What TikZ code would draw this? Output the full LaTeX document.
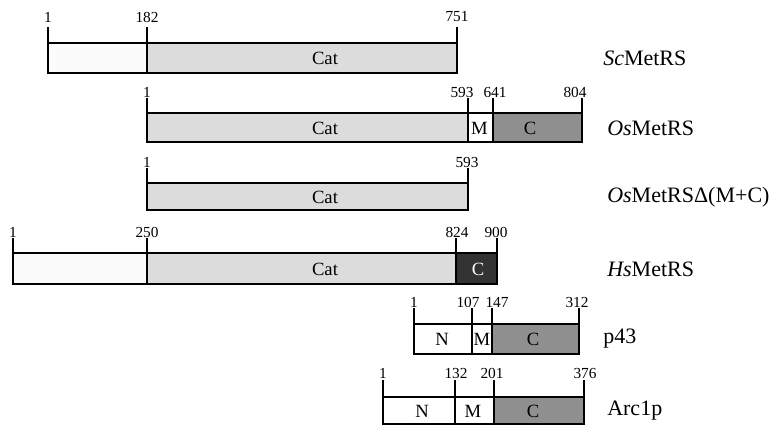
\documentclass[tikz,border=0pt]{standalone}
\usepackage{fontspec}
\setmainfont{Liberation Serif}
\definecolor{lightfill}{HTML}{FBFBFB}
\definecolor{catfill}{HTML}{DCDCDC}
\definecolor{cfill}{HTML}{8F8F8F}
\definecolor{hsfill}{HTML}{333333}
\begin{document}
\begin{tikzpicture}[x=0.75pt,y=-0.75pt,
  seg/.style={draw=black, line width=1.1pt},
  tick/.style={draw=black, line width=1.4pt},
  num/.style={font=\fontsize{11.5}{12}\selectfont, inner sep=0pt},
  dom/.style={font=\fontsize{14}{15}\selectfont, inner sep=0pt},
  domw/.style={dom, text=white},
  pname/.style={anchor=west, font=\fontsize{16.5}{18}\selectfont, inner sep=0pt}]
\useasboundingbox (0,0) rectangle (775,425);
% Row 1: ScMetRS
\draw[seg, fill=lightfill] (48,43) rectangle (147,73);
\draw[seg, fill=catfill] (147,43) rectangle (457,73);
\draw[tick] (48,27) -- (48,43) -- (457,43) -- (457,27);
\draw[tick] (147,27) -- (147,43);
\node[num] (a1) at (48,17) {1};
\node[num] (a2) at (147,17) {182};
\node[num] (a3) at (457,17) {751};
\node[dom] (ad) at (325,58) {Cat};
\node[pname] (an) at (603,58) {\textit{Sc}MetRS};
% Row 2: OsMetRS
\draw[seg, fill=catfill] (147,113) rectangle (468,142);
\draw[seg, fill=white] (468,113) rectangle (493,142);
\draw[seg, fill=cfill] (493,113) rectangle (582,142);
\draw[tick] (147,98) -- (147,113) -- (582,113) -- (582,98);
\draw[tick] (468,98) -- (468,113);
\draw[tick] (493,98) -- (493,113);
\node[num] (b1) at (147,92) {1};
\node[num] (b2) at (462,92) {593};
\node[num] (b3) at (495,92) {641};
\node[num] (b4) at (575,92) {804};
\node[dom] (bd1) at (325,128) {Cat};
\node[dom] (bd2) at (479.5,128) {M};
\node[dom] (bd3) at (530,128) {C};
\node[pname] (bn) at (607,128) {\textit{Os}MetRS};
% Row 3: OsMetRS delta
\draw[seg, fill=catfill] (147,183) rectangle (468,210);
\draw[tick] (147,168) -- (147,183) -- (468,183) -- (468,168);
\node[num] (c1) at (147,162) {1};
\node[num] (c2) at (467,162) {593};
\node[dom] (cd) at (325,197) {Cat};
\node[pname] (cn) at (607,197) {\textit{Os}MetRSΔ(M+C)};
% Row 4: HsMetRS
\draw[seg, fill=lightfill] (13,253) rectangle (147,284);
\draw[seg, fill=catfill] (147,253) rectangle (456,284);
\draw[seg, fill=hsfill] (456,253) rectangle (497,284);
\draw[tick] (13,238) -- (13,253) -- (497,253) -- (497,238);
\draw[tick] (147,238) -- (147,253);
\draw[tick] (456,238) -- (456,253);
\node[num] (d1) at (13,232) {1};
\node[num] (d2) at (147,232) {250};
\node[num] (d3) at (457,232) {824};
\node[num] (d4) at (496,232) {900};
\node[dom] (dd1) at (325,269) {Cat};
\node[domw] (dd2) at (478,269) {C};
\node[pname] (dn) at (607,269) {\textit{Hs}MetRS};
% Row 5: p43
\draw[seg, fill=white] (414,324) rectangle (472,354);
\draw[seg, fill=white] (472,324) rectangle (492,354);
\draw[seg, fill=cfill] (492,324) rectangle (579,354);
\draw[tick] (414,308) -- (414,324) -- (579,324) -- (579,308);
\draw[tick] (472,308) -- (472,324);
\draw[tick] (492,308) -- (492,324);
\node[num] (e1) at (414,302) {1};
\node[num] (e2) at (468,302) {107};
\node[num] (e3) at (497,302) {147};
\node[num] (e4) at (577,302) {312};
\node[dom] (ed1) at (442,339) {N};
\node[dom] (ed2) at (482,339) {M};
\node[dom] (ed3) at (533,339) {C};
\node[pname] (en) at (603,339) {p43};
% Row 6: Arc1p
\draw[seg, fill=white] (383,397) rectangle (455,424);
\draw[seg, fill=white] (455,397) rectangle (494,424);
\draw[seg, fill=cfill] (494,397) rectangle (584,424);
\draw[tick] (383,380) -- (383,397) -- (584,397) -- (584,380);
\draw[tick] (455,380) -- (455,397);
\draw[tick] (494,380) -- (494,397);
\node[num] (f1) at (383,373) {1};
\node[num] (f2) at (456,373) {132};
\node[num] (f3) at (492,373) {201};
\node[num] (f4) at (585,373) {376};
\node[dom] (fd1) at (422,411) {N};
\node[dom] (fd2) at (473,411) {M};
\node[dom] (fd3) at (533,411) {C};
\node[pname] (fn) at (607,411) {Arc1p};
\end{tikzpicture}
\end{document}
